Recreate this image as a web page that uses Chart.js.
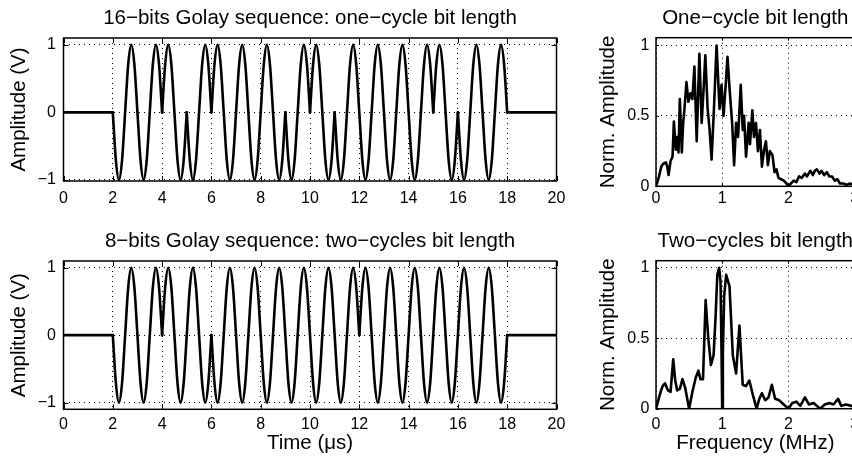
<!DOCTYPE html>
<html>
<head>
<meta charset="utf-8">
<script src="https://cdn.jsdelivr.net/npm/chart.js@4/dist/chart.umd.min.js"></script>
<style>
  html, body { margin: 0; padding: 0; background: #fff; overflow: hidden; }
  #fig { position: relative; width: 852px; height: 459px; overflow: hidden; background: #fff; }
  #fig canvas { position: absolute; }
</style>
</head>
<body>
<div id="fig">
  <canvas id="timeTop" width="580" height="230" style="left:0;top:0"></canvas>
  <canvas id="timeBot" width="580" height="237" style="left:0;top:222px"></canvas>
  <canvas id="specTop" width="300" height="230" style="left:580px;top:0"></canvas>
  <canvas id="specBot" width="300" height="237" style="left:580px;top:222px"></canvas>
</div>
<script>
const FONT = '"Liberation Sans", Arial, Helvetica, sans-serif';

// ---- time domain: bit polarity read from the phase flips in each burst ----
const bits16 = [1, 1, -1, 1, -1, -1, -1, 1, -1, 1, 1, 1, 1, -1, 1, 1];
const bits8 = [1, -1, 1, 1, 1, -1, -1, -1];
const cycleShape = [0, -0.71, -1, -0.71, 0, 0.71, 1, 0.71];
const sampleStep = 0.125;
const burstStart = 2, burstEnd = 18;
const timeTicks = [0, 2, 4, 6, 8, 10, 12, 14, 16, 18, 20];
const ampTicks = [-1, 0, 1];

// ---- spectra (normalised amplitude vs MHz) ----
const specOneFreq = [0.00, 0.04, 0.08, 0.11, 0.15, 0.17, 0.19, 0.22, 0.25, 0.27, 0.30, 0.32, 0.34, 0.36, 0.39,
  0.41, 0.43, 0.46, 0.49, 0.52, 0.55, 0.58, 0.615, 0.655, 0.69, 0.72, 0.745, 0.78, 0.81, 0.84, 0.88, 0.915,
  0.96, 0.99, 1.02, 1.05, 1.08, 1.11, 1.15, 1.18, 1.21, 1.24, 1.28, 1.31, 1.33, 1.36, 1.40, 1.42, 1.455,
  1.48, 1.51, 1.54, 1.57, 1.60, 1.63, 1.66, 1.69, 1.72, 1.76, 1.79, 1.82, 1.85, 1.89, 1.93, 1.97, 2.00,
  2.04, 2.08, 2.12, 2.16, 2.20, 2.25, 2.28, 2.33, 2.37, 2.40, 2.43, 2.47, 2.50, 2.54, 2.58, 2.62, 2.66,
  2.70, 2.74, 2.78, 2.83, 2.88, 2.93, 2.98, 3.00];
const specOneAmp = [0.00, 0.06, 0.14, 0.16, 0.17, 0.14, 0.08, 0.18, 0.21, 0.46, 0.26, 0.35, 0.24, 0.62, 0.24,
  0.45, 0.55, 0.74, 0.60, 0.66, 0.62, 0.85, 0.32, 0.94, 0.45, 0.70, 0.93, 0.55, 0.40, 0.19, 0.60, 1.00,
  0.55, 0.72, 0.50, 0.70, 0.92, 0.70, 0.45, 0.15, 0.45, 0.35, 0.72, 0.40, 0.50, 0.21, 0.45, 0.30, 0.54,
  0.35, 0.45, 0.25, 0.40, 0.14, 0.25, 0.32, 0.15, 0.25, 0.22, 0.10, 0.12, 0.06, 0.05, 0.04, 0.02, 0.00,
  0.02, 0.04, 0.03, 0.07, 0.06, 0.09, 0.07, 0.11, 0.08, 0.11, 0.12, 0.09, 0.11, 0.08, 0.10, 0.07, 0.07,
  0.04, 0.05, 0.02, 0.02, 0.01, 0.02, 0.01, 0.01];

const specTwoFreq = [0.00, 0.04, 0.07, 0.10, 0.136, 0.18, 0.22, 0.26, 0.29, 0.32, 0.36, 0.40, 0.44, 0.50,
  0.55, 0.60, 0.64, 0.67, 0.71, 0.75, 0.79, 0.83, 0.87, 0.90, 0.926, 0.955, 0.975, 0.99, 1.00, 1.01, 1.03,
  1.06, 1.11, 1.16, 1.21, 1.26, 1.31, 1.36, 1.41, 1.47, 1.52, 1.56, 1.60, 1.65, 1.70, 1.75, 1.80, 1.86,
  1.93, 2.00, 2.06, 2.12, 2.18, 2.25, 2.31, 2.38, 2.48, 2.55, 2.62, 2.68, 2.75, 2.80, 2.87, 2.95, 3.00];
const specTwoAmp = [0.00, 0.07, 0.12, 0.16, 0.18, 0.13, 0.12, 0.35, 0.20, 0.13, 0.14, 0.21, 0.15, 0.00,
  0.12, 0.22, 0.27, 0.21, 0.21, 0.77, 0.50, 0.31, 0.38, 0.65, 0.95, 1.00, 0.90, 0.40, 0.00, 0.40, 0.80,
  0.95, 0.87, 0.38, 0.25, 0.59, 0.17, 0.16, 0.20, 0.085, 0.00, 0.07, 0.11, 0.06, 0.08, 0.17, 0.07, 0.06,
  0.03, 0.00, 0.04, 0.05, 0.02, 0.08, 0.03, 0.04, 0.00, 0.03, 0.04, 0.03, 0.07, 0.02, 0.03, 0.02, 0.02];
const freqTicks = [0, 1, 2, 3];
const normTicks = [0, 0.5, 1];

/* split a burst into runs of equal bits so every phase flip stays a sharp cusp */
function burstRuns(bits, cyclesPerBit) {
  const perBit = cycleShape.length * cyclesPerBit;
  const runs = [];
  let cur = null, prev = 0, t = burstStart;
  bits.forEach(b => {
    if (b !== prev) { cur = [{ x: t, y: 0 }]; runs.push(cur); prev = b; }
    for (let k = 1; k <= perBit; k++) {
      cur.push({ x: t + k * sampleStep, y: b * cycleShape[k % cycleShape.length] || 0 });
    }
    t += perBit * sampleStep;
  });
  return runs;
}

function lineSet(points, smooth) {
  return {
    data: points, borderColor: '#000', borderWidth: 2.6, pointRadius: 0,
    borderCapStyle: 'round', borderJoinStyle: 'round',
    cubicInterpolationMode: smooth ? 'monotone' : 'default', tension: 0
  };
}

function timeDatasets(bits, cyclesPerBit) {
  const sets = [lineSet([{ x: 0, y: 0 }, { x: burstStart, y: 0 }], false)];
  burstRuns(bits, cyclesPerBit).forEach(r => sets.push(lineSet(r, true)));
  sets.push(lineSet([{ x: burstEnd, y: 0 }, { x: 20, y: 0 }], false));
  return sets;
}

function specDataset(freq, amp) {
  return [lineSet(freq.map((f, i) => ({ x: f, y: amp[i] })), false)];
}

/* box round the axes plus MATLAB-style inward ticks */
const frame = {
  id: 'frame',
  afterDraw(chart) {
    const { ctx, chartArea: a, scales: { x, y } } = chart;
    const tl = chart.options.plugins.frame.tick;
    ctx.save();
    ctx.strokeStyle = '#000';
    ctx.lineWidth = 1;
    ctx.beginPath();
    x.ticks.forEach(t => {
      const p = Math.round(x.getPixelForValue(t.value)) + 0.5;
      ctx.moveTo(p, a.bottom); ctx.lineTo(p, a.bottom - tl);
      ctx.moveTo(p, a.top); ctx.lineTo(p, a.top + tl);
    });
    y.ticks.forEach(t => {
      const p = Math.round(y.getPixelForValue(t.value)) + 0.5;
      ctx.moveTo(a.left, p); ctx.lineTo(a.left + tl, p);
      ctx.moveTo(a.right, p); ctx.lineTo(a.right - tl, p);
    });
    ctx.stroke();
    ctx.lineWidth = 1.5;
    ctx.strokeRect(a.left, a.top, a.right - a.left, a.bottom - a.top);
    ctx.restore();
  }
};

const minusFmt = v => (v < 0 ? '\u2212' + Math.abs(v) : String(v));

function makeChart(id, datasets, c) {
  return new Chart(document.getElementById(id), {
    type: 'line',
    data: { datasets },
    plugins: [frame],
    options: {
      responsive: false, animation: false, devicePixelRatio: 1,
      layout: { padding: { left: 0, right: c.padRight, top: 0, bottom: 0 } },
      plugins: {
        legend: { display: false }, tooltip: { enabled: false },
        frame: { tick: c.tick },
        title: {
          display: true, fullSize: false, text: c.title, color: '#000',
          font: { family: FONT, size: 20.5, weight: 'normal', lineHeight: 1.2 },
          padding: { top: c.titleTop, bottom: c.titleBottom }
        }
      },
      scales: {
        x: {
          type: 'linear', min: c.xMin, max: c.xMax,
          afterBuildTicks: s => { s.ticks = c.xTicks.map(v => ({ value: v })); },
          afterFit: s => { s.height = c.xHeight; },
          ticks: { color: '#000', font: { family: FONT, size: 16 }, padding: c.xPad, maxRotation: 0, autoSkip: false, callback: minusFmt },
          grid: { color: '#000', lineWidth: 1, drawTicks: false },
          border: { display: false, dash: [1, 4] },
          title: c.xTitle ? {
            display: true, text: c.xTitle, color: '#000',
            font: { family: FONT, size: 20.5, lineHeight: 1.2 }, padding: { top: 0, bottom: c.xTitlePad }
          } : { display: false }
        },
        y: {
          type: 'linear', min: c.yMin, max: c.yMax,
          afterBuildTicks: s => { s.ticks = c.yTicks.map(v => ({ value: v })); },
          afterFit: s => { s.width = c.yWidth; },
          ticks: { color: '#000', font: { family: FONT, size: 16 }, padding: c.yPad, autoSkip: false, callback: minusFmt },
          grid: { color: '#000', lineWidth: 1, drawTicks: false },
          border: { display: false, dash: [1, 4] },
          title: {
            display: true, text: c.yTitle, color: '#000',
            font: { family: FONT, size: 20.5, lineHeight: 1.2 }, padding: { top: c.yTitlePad, bottom: 0 }
          }
        }
      }
    }
  });
}

makeChart('timeTop', timeDatasets(bits16, 1), {
  title: '16\u2212bits Golay sequence: one\u2212cycle bit length', titleTop: 5.7, titleBottom: 7.7,
  padRight: 23.5, yWidth: 63.5, xHeight: 49, xPad: 8, yPad: 7.5, tick: 5,
  xMin: 0, xMax: 20, xTicks: timeTicks, yMin: -1.015, yMax: 1.1, yTicks: ampTicks,
  yTitle: 'Amplitude (V)', yTitlePad: 6.9
});

makeChart('timeBot', timeDatasets(bits8, 2), {
  title: '8\u2212bits Golay sequence: two\u2212cycles bit length', titleTop: 6.9, titleBottom: 7.5,
  padRight: 23.5, yWidth: 63.5, xHeight: 49.7, xPad: 6, yPad: 7.5, tick: 5,
  xMin: 0, xMax: 20, xTicks: timeTicks, yMin: -1.1, yMax: 1.1, yTicks: ampTicks,
  yTitle: 'Amplitude (V)', yTitlePad: 6.9, xTitle: 'Time (\u03bcs)', xTitlePad: 3
});

makeChart('specTop', specDataset(specOneFreq, specOneAmp), {
  title: 'One\u2212cycle bit length', titleTop: 5.7, titleBottom: 7.4,
  padRight: 25.4, yWidth: 76, xHeight: 43.7, xPad: 2.5, yPad: 6.5, tick: 3,
  xMin: 0, xMax: 3, xTicks: freqTicks, yMin: 0, yMax: 1.055, yTicks: normTicks,
  yTitle: 'Norm. Amplitude', yTitlePad: 15.7
});

makeChart('specBot', specDataset(specTwoFreq, specTwoAmp), {
  title: 'Two\u2212cycles bit length', titleTop: 7.2, titleBottom: 6.9,
  padRight: 25.4, yWidth: 76, xHeight: 50.3, xPad: 6, yPad: 6.5, tick: 3,
  xMin: 0, xMax: 3, xTicks: freqTicks, yMin: 0, yMax: 1.05, yTicks: normTicks,
  yTitle: 'Norm. Amplitude', yTitlePad: 15.7, xTitle: 'Frequency (MHz)', xTitlePad: 3
});
</script>
</body>
</html>
